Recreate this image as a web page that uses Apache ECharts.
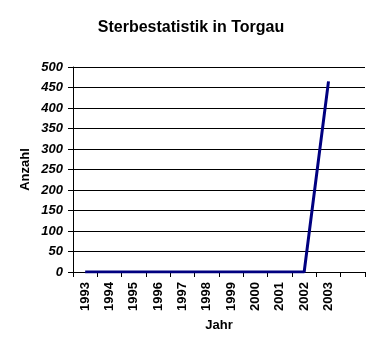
<!DOCTYPE html>
<html>
<head>
<meta charset="utf-8">
<script src="https://cdn.jsdelivr.net/npm/echarts@6/dist/echarts.min.js"></script>
<style>
    html, body { margin: 0; padding: 0; background: #fff; }
    #chart { width: 382px; height: 352px; }
</style>
</head>
<body>
<div id="chart"></div>
<script>
// Jahre (letzte Kategorie bleibt leer wie im Original)
var jahre = ['1993', '1994', '1995', '1996', '1997', '1998', '1999', '2000', '2001', '2002', '2003', ''];
var anzahl = [0, 0, 0, 0, 0, 0, 0, 0, 0, 0, 465, null];
var yTicks = [0, 50, 100, 150, 200, 250, 300, 350, 400, 450, 500];

var myChart = echarts.init(document.getElementById('chart'));

var option = {
    animation: false,
    title: {
        text: 'Sterbestatistik in Torgau',
        left: 'center',
        top: 15,
        textStyle: {
            fontFamily: 'Liberation Sans',
            fontSize: 16,
            fontWeight: 'bold',
            color: '#000'
        }
    },
    grid: {
        left: 73,
        right: 17,
        top: 67,
        bottom: 80
    },
    xAxis: {
        type: 'category',
        data: jahre,
        boundaryGap: true,
        name: 'Jahr',
        nameLocation: 'middle',
        nameGap: 47,
        nameTextStyle: {
            fontFamily: 'Liberation Sans',
            fontSize: 13,
            fontWeight: 'bold',
            color: '#000'
        },
        axisLine: { lineStyle: { color: '#000', width: 1 } },
        axisTick: { show: true, length: 5, lineStyle: { color: '#000' } },
        axisLabel: {
            rotate: 90,
            interval: 0,
            margin: 10,
            fontFamily: 'Liberation Sans',
            fontSize: 13,
            fontWeight: 'bold',
            color: '#000'
        },
        splitLine: { show: false }
    },
    yAxis: {
        type: 'value',
        min: yTicks[0],
        max: yTicks[yTicks.length - 1],
        interval: 50,
        name: 'Anzahl',
        nameLocation: 'middle',
        nameRotate: 90,
        nameGap: 41,
        nameMoveOverlap: false,
        nameTextStyle: {
            fontFamily: 'Liberation Sans',
            fontSize: 13,
            fontWeight: 'bold',
            color: '#000'
        },
        axisLine: { show: true, lineStyle: { color: '#000', width: 1 } },
        axisTick: { show: true, length: 5, lineStyle: { color: '#000' } },
        axisLabel: {
            margin: 10,
            fontFamily: 'Liberation Sans',
            fontSize: 13,
            fontWeight: 'bold',
            fontStyle: 'italic',
            color: '#000'
        },
        splitLine: { show: true, lineStyle: { color: '#000', width: 1 } }
    },
    series: [{
        type: 'line',
        data: anzahl,
        symbol: 'none',
        lineStyle: { color: '#000080', width: 3 },
        z: 5
    }]
};

myChart.setOption(option);
</script>
</body>
</html>
